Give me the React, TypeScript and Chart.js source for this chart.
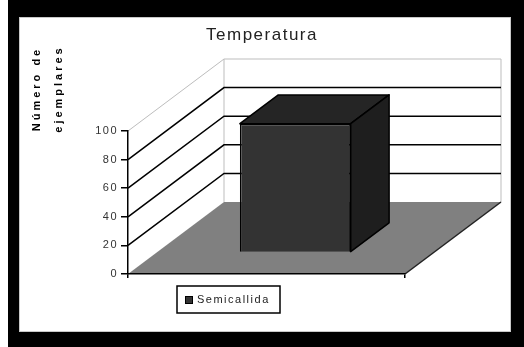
import { useEffect, useRef } from 'react';
import { Chart, registerables } from 'chart.js';

Chart.register(...registerables);

// ---- data ----
const CATEGORIES = ['Semicallida'];
const SERIES_LABEL = 'Semicallida';
const VALUES = [90];
const Y_TICKS = [0, 20, 40, 60, 80, 100];
const CHART_TITLE = 'Temperatura';
const Y_TITLE = ['Número de', 'ejemplares'];

// ---- style ----
const W = 524;
const H = 347;
const FONT = "'Liberation Sans', Arial, sans-serif";
const DEPTH = { x: 96, y: -72 };
const BAR_FRONT = 0.3;
const BAR_BACK = 0.7;
const BAR_COLOR = '#333333';

const scene3d = {
  id: 'scene3d',
  afterLayout(chart: any) {
    const tb = chart.titleBlock;
    if (tb) {
      tb.left = 0;
      tb.right = W;
      tb.width = W;
    }
  },
  beforeDraw(chart: any) {
    const { ctx, chartArea: ca, scales } = chart;
    const ys = scales.y;
    ctx.save();
    // frame
    ctx.fillStyle = '#fff';
    ctx.fillRect(0, 0, W, H);
    ctx.fillStyle = '#000';
    ctx.fillRect(8, 0, W - 8, H);
    ctx.fillStyle = '#fff';
    ctx.fillRect(19, 17, 492, 315);
    ctx.strokeStyle = '#c8c8c8';
    ctx.lineWidth = 1;
    ctx.strokeRect(19.5, 17.5, 491, 314);

    const L = ca.left;
    const R = ca.right;
    const B = ca.bottom;
    const dx = DEPTH.x;
    const dy = DEPTH.y;
    const maxV = ys.max;
    const topY = ys.getPixelForValue(maxV);

    // back wall verticals
    ctx.strokeStyle = '#bdbdbd';
    ctx.lineWidth = 1;
    ctx.beginPath();
    ctx.moveTo(L + dx, topY + dy);
    ctx.lineTo(L + dx, B + dy);
    ctx.moveTo(R + dx, topY + dy);
    ctx.lineTo(R + dx, B + dy);
    ctx.stroke();

    // gridlines on side wall & back wall
    ys.ticks.forEach((t: any) => {
      if (t.value === ys.min) return;
      const py = ys.getPixelForValue(t.value);
      const isTop = t.value === maxV;
      ctx.strokeStyle = isTop ? '#bdbdbd' : '#000';
      ctx.lineWidth = isTop ? 1 : 1.5;
      ctx.beginPath();
      ctx.moveTo(L, py);
      ctx.lineTo(L + dx, py + dy);
      ctx.lineTo(R + dx, py + dy);
      ctx.stroke();
    });

    // floor
    ctx.fillStyle = '#808080';
    ctx.beginPath();
    ctx.moveTo(L, B);
    ctx.lineTo(R, B);
    ctx.lineTo(R + dx, B + dy);
    ctx.lineTo(L + dx, B + dy);
    ctx.closePath();
    ctx.fill();
    ctx.strokeStyle = '#222';
    ctx.lineWidth = 1.5;
    ctx.beginPath();
    ctx.moveTo(R, B);
    ctx.lineTo(R + dx, B + dy);
    ctx.stroke();
    ctx.restore();
    ctx.letterSpacing = '1.5px';
  },
  beforeDatasetsDraw(chart: any) {
    const ctx = chart.ctx;
    ctx.save();
    ctx.translate(BAR_FRONT * DEPTH.x, BAR_FRONT * DEPTH.y);
  },
  afterDatasetsDraw(chart: any) {
    const ctx = chart.ctx;
    ctx.restore();
    const meta = chart.getDatasetMeta(0);
    const o1x = BAR_FRONT * DEPTH.x;
    const o1y = BAR_FRONT * DEPTH.y;
    const o2x = BAR_BACK * DEPTH.x;
    const o2y = BAR_BACK * DEPTH.y;
    meta.data.forEach((el: any) => {
      const { x, y, base, width } = el.getProps(['x', 'y', 'base', 'width'], true);
      const l = x - width / 2;
      const r = x + width / 2;
      ctx.save();
      ctx.strokeStyle = '#000';
      ctx.lineWidth = 1.5;
      ctx.lineJoin = 'round';
      // top face
      ctx.fillStyle = '#252525';
      ctx.beginPath();
      ctx.moveTo(l + o1x, y + o1y);
      ctx.lineTo(r + o1x, y + o1y);
      ctx.lineTo(r + o2x, y + o2y);
      ctx.lineTo(l + o2x, y + o2y);
      ctx.closePath();
      ctx.fill();
      ctx.stroke();
      // side face
      ctx.fillStyle = '#1e1e1e';
      ctx.beginPath();
      ctx.moveTo(r + o1x, y + o1y);
      ctx.lineTo(r + o2x, y + o2y);
      ctx.lineTo(r + o2x, base + o2y);
      ctx.lineTo(r + o1x, base + o1y);
      ctx.closePath();
      ctx.fill();
      ctx.stroke();
      ctx.restore();
    });
  },
  afterDraw(chart: any) {
    const { ctx, chartArea: ca } = chart;
    const ds = chart.data.datasets[0];
    ctx.save();
    // legend
    const lx = ca.left + 49;
    const ly = ca.bottom + 12;
    ctx.strokeStyle = '#000';
    ctx.lineWidth = 1.5;
    ctx.strokeRect(lx, ly, 103, 27);
    ctx.fillStyle = ds.backgroundColor;
    ctx.fillRect(lx + 8, ly + 10, 8, 8);
    ctx.lineWidth = 1;
    ctx.strokeRect(lx + 8.5, ly + 10.5, 7, 7);
    ctx.letterSpacing = '1.5px';
    ctx.font = `11px ${FONT}`;
    ctx.fillStyle = '#222';
    ctx.textAlign = 'left';
    ctx.textBaseline = 'middle';
    ctx.fillText(ds.label, lx + 20, ly + 14);
    // y axis title
    ctx.font = `bold 11px ${FONT}`;
    ctx.letterSpacing = '3px';
    ctx.fillStyle = '#000';
    ctx.textAlign = 'center';
    Y_TITLE.forEach((s, i) => {
      ctx.save();
      ctx.translate(37 + i * 22, 89);
      ctx.rotate(-Math.PI / 2);
      ctx.fillText(s, 0, 0);
      ctx.restore();
    });
    ctx.restore();
    ctx.letterSpacing = '0px';
  },
};

export default function App() {
  const ref = useRef<HTMLCanvasElement | null>(null);
  useEffect(() => {
    if (!ref.current) return;
    const chart = new Chart(ref.current, {
      type: 'bar',
      data: {
        labels: CATEGORIES,
        datasets: [
          {
            label: SERIES_LABEL,
            data: VALUES,
            backgroundColor: BAR_COLOR,
            borderColor: '#000',
            borderWidth: 1.5,
            barPercentage: 0.4,
            categoryPercentage: 1,
            clip: false as any,
          },
        ],
      },
      options: {
        responsive: false,
        animation: false,
        devicePixelRatio: 1,
        events: [],
        layout: { padding: { left: 0, right: 119, top: 0, bottom: 53 } },
        plugins: {
          legend: { display: false },
          tooltip: { enabled: false },
          title: {
            display: true,
            text: CHART_TITLE,
            color: '#222',
            font: { family: FONT, size: 17, weight: 'normal' },
            padding: { top: 25, bottom: 85.6 },
          },
        },
        scales: {
          x: {
            type: 'category',
            offset: true,
            grid: {
              offset: true,
              drawOnChartArea: false,
              drawTicks: true,
              tickLength: 4,
              color: '#000',
              lineWidth: 1.5,
            },
            border: { display: true, color: '#000', width: 1.5 },
            ticks: { display: false },
            afterFit(s: any) {
              s.height = 20;
            },
          },
          y: {
            min: Y_TICKS[0],
            max: Y_TICKS[Y_TICKS.length - 1],
            afterBuildTicks(s: any) {
              s.ticks = Y_TICKS.map((v) => ({ value: v }));
            },
            ticks: {
              color: '#333',
              padding: 3,
              font: { family: FONT, size: 11 },
            },
            grid: {
              drawOnChartArea: false,
              drawTicks: true,
              tickLength: 7,
              color: '#000',
              lineWidth: 1.5,
            },
            border: { display: true, color: '#000', width: 1.5 },
            afterFit(s: any) {
              s.width = 128;
            },
          },
        },
      } as any,
      plugins: [scene3d],
    });
    return () => chart.destroy();
  }, []);
  return (
    <div style={{ position: 'absolute', left: 0, top: 0, width: W, height: H }}>
      <canvas ref={ref} width={W} height={H} style={{ display: 'block' }} />
    </div>
  );
}
